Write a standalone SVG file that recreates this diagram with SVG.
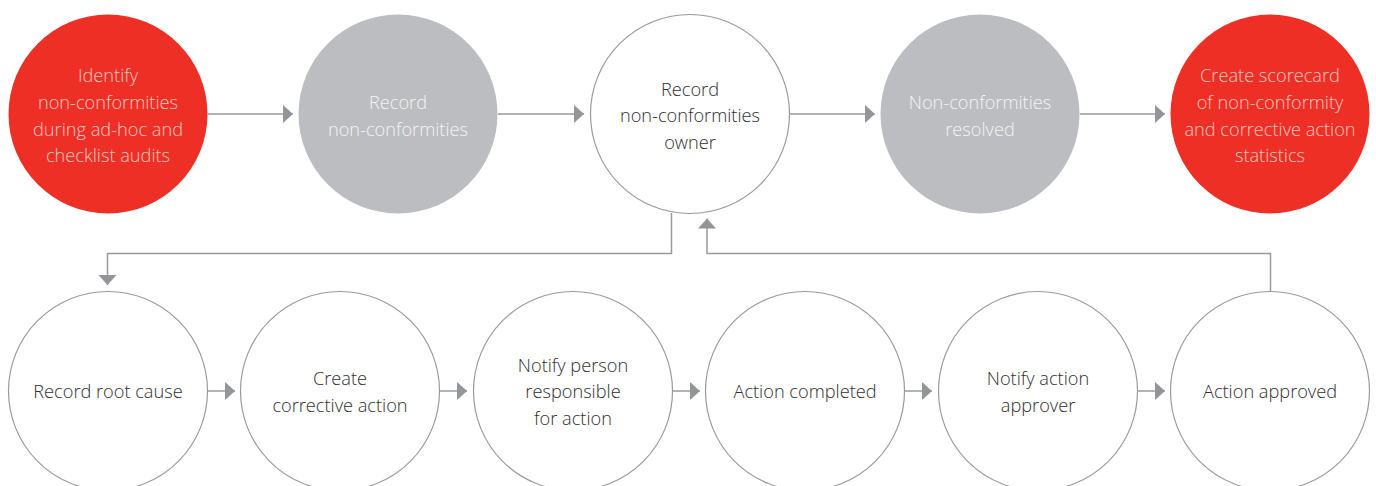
<svg xmlns="http://www.w3.org/2000/svg" width="1376" height="486" viewBox="0 0 1376 486">
<defs>
<style>
.red{fill:#EE2F25}
.gray{fill:#BCBDC0}
.white{fill:#FFFFFF;stroke:#9A9A9C;stroke-width:1.2}
text{font-family:"Open Sans","Liberation Sans",sans-serif;font-size:18.2px;font-weight:300;text-anchor:middle}
.tr{fill:#F8C9C2}
.tg{fill:#F4F4F5}
.tw{fill:#2E2E30}
.conn{fill:none;stroke:#9A9A9C;stroke-width:1.5}
</style>
<marker id="ah" markerUnits="userSpaceOnUse" markerWidth="12" markerHeight="20" refX="10" refY="9" orient="auto">
<path d="M0,0 L10,9 L0,18 Z" fill="#939598"/>
</marker>
</defs>
<g id="connectors">
<line class="conn" x1="208" y1="114" x2="293" y2="114" marker-end="url(#ah)"/>
<line class="conn" x1="498" y1="114" x2="584" y2="114" marker-end="url(#ah)"/>
<line class="conn" x1="790" y1="114" x2="875" y2="114" marker-end="url(#ah)"/>
<line class="conn" x1="1080" y1="114" x2="1165" y2="114" marker-end="url(#ah)"/>
<polyline class="conn" points="671.5,213 671.5,253.5 107.5,253.5 107.5,285" marker-end="url(#ah)"/>
<polyline class="conn" points="1270.5,291 1270.5,253.5 707,253.5 707,218.5" marker-end="url(#ah)"/>
<line class="conn" x1="208" y1="391" x2="235" y2="391" marker-end="url(#ah)"/>
<line class="conn" x1="440" y1="391" x2="467" y2="391" marker-end="url(#ah)"/>
<line class="conn" x1="673" y1="391" x2="700" y2="391" marker-end="url(#ah)"/>
<line class="conn" x1="905" y1="391" x2="932" y2="391" marker-end="url(#ah)"/>
<line class="conn" x1="1138" y1="391" x2="1165" y2="391" marker-end="url(#ah)"/>
</g>
<g id="n1"><circle class="red" cx="108" cy="114" r="99.5"/>
<text class="tr"><tspan x="108" y="82">Identify</tspan><tspan x="108" y="109">non-conformities</tspan><tspan x="108" y="136">during ad-hoc and</tspan><tspan x="108" y="162">checklist audits</tspan></text></g>
<g id="n2"><circle class="gray" cx="398" cy="114" r="99.5"/>
<text class="tg"><tspan x="398" y="109">Record</tspan><tspan x="398" y="136">non-conformities</tspan></text></g>
<g id="n3"><circle class="white" cx="690" cy="114" r="99.5"/>
<text class="tw"><tspan x="690" y="96">Record</tspan><tspan x="690" y="122">non-conformities</tspan><tspan x="690" y="149">owner</tspan></text></g>
<g id="n4"><circle class="gray" cx="980" cy="114" r="99.5"/>
<text class="tg"><tspan x="980" y="109">Non-conformities</tspan><tspan x="980" y="136">resolved</tspan></text></g>
<g id="n5"><circle class="red" cx="1270" cy="114" r="99.5"/>
<text class="tr"><tspan x="1270" y="82">Create scorecard</tspan><tspan x="1270" y="109">of non-conformity</tspan><tspan x="1270" y="136">and corrective action</tspan><tspan x="1270" y="162">statistics</tspan></text></g>
<g id="b1"><circle class="white" cx="108" cy="391" r="99.5"/>
<text class="tw"><tspan x="108" y="398">Record root cause</tspan></text></g>
<g id="b2"><circle class="white" cx="340" cy="391" r="99.5"/>
<text class="tw"><tspan x="340" y="385">Create</tspan><tspan x="340" y="412">corrective action</tspan></text></g>
<g id="b3"><circle class="white" cx="573" cy="391" r="99.5"/>
<text class="tw"><tspan x="573" y="372">Notify person</tspan><tspan x="573" y="398">responsible</tspan><tspan x="573" y="425">for action</tspan></text></g>
<g id="b4"><circle class="white" cx="805" cy="391" r="99.5"/>
<text class="tw"><tspan x="805" y="398">Action completed</tspan></text></g>
<g id="b5"><circle class="white" cx="1038" cy="391" r="99.5"/>
<text class="tw"><tspan x="1038" y="385">Notify action</tspan><tspan x="1038" y="412">approver</tspan></text></g>
<g id="b6"><circle class="white" cx="1270" cy="391" r="99.5"/>
<text class="tw"><tspan x="1270" y="398">Action approved</tspan></text></g>
</svg>
